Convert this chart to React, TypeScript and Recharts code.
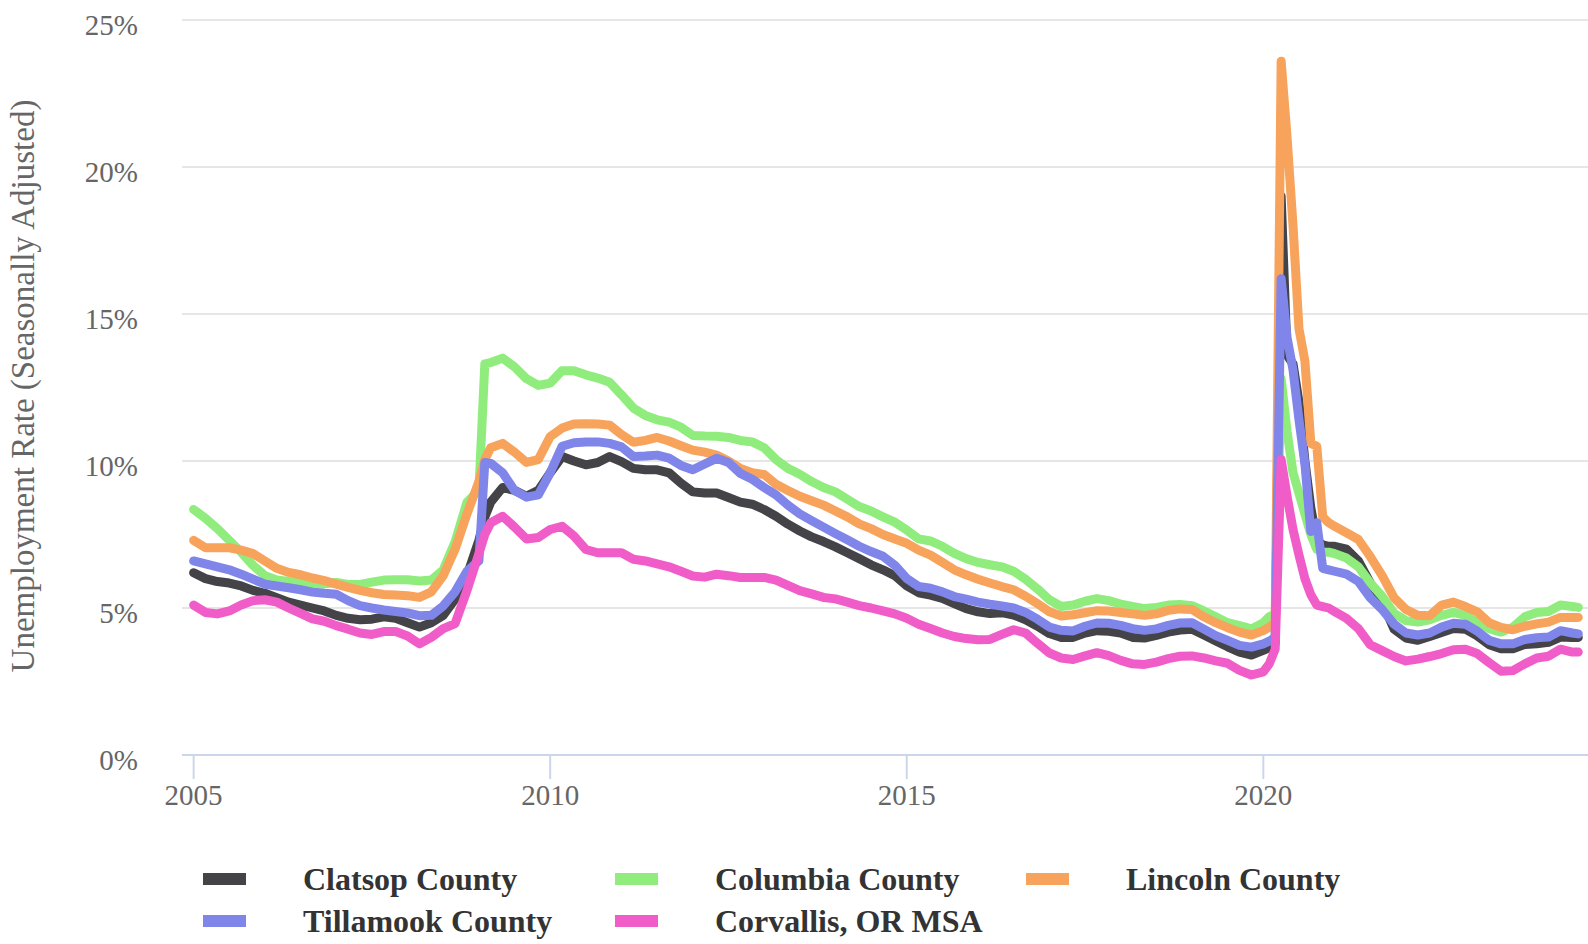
import React from 'react'
import { CartesianGrid, Line, LineChart, XAxis, YAxis } from 'recharts'

const FONT = '"Liberation Serif", "Times New Roman", serif'

// sample dates (every other month, monthly around 2009 and 2020 jumps)
const months = [
    '2005-01', '2005-03', '2005-05', '2005-07', '2005-09', '2005-11',
    '2006-01', '2006-03', '2006-05', '2006-07', '2006-09', '2006-11',
    '2007-01', '2007-03', '2007-05', '2007-07', '2007-09', '2007-11',
    '2008-01', '2008-03', '2008-05', '2008-07', '2008-09', '2008-11',
    '2009-01', '2009-02', '2009-03', '2009-05', '2009-07', '2009-09', '2009-11',
    '2010-01', '2010-03', '2010-05', '2010-07', '2010-09', '2010-11',
    '2011-01', '2011-03', '2011-05', '2011-07', '2011-09', '2011-11',
    '2012-01', '2012-03', '2012-05', '2012-07', '2012-09', '2012-11',
    '2013-01', '2013-03', '2013-05', '2013-07', '2013-09', '2013-11',
    '2014-01', '2014-03', '2014-05', '2014-07', '2014-09', '2014-11',
    '2015-01', '2015-03', '2015-05', '2015-07', '2015-09', '2015-11',
    '2016-01', '2016-03', '2016-05', '2016-07', '2016-09', '2016-11',
    '2017-01', '2017-03', '2017-05', '2017-07', '2017-09', '2017-11',
    '2018-01', '2018-03', '2018-05', '2018-07', '2018-09', '2018-11',
    '2019-01', '2019-03', '2019-05', '2019-07', '2019-09', '2019-11',
    '2020-01', '2020-02', '2020-03', '2020-04', '2020-05', '2020-06',
    '2020-07', '2020-08', '2020-09', '2020-10', '2020-11', '2020-12',
    '2021-01', '2021-03', '2021-05', '2021-07', '2021-09', '2021-11',
    '2022-01', '2022-03', '2022-05', '2022-07', '2022-09', '2022-11',
    '2023-01', '2023-03', '2023-05', '2023-07', '2023-09', '2023-11',
    '2024-01', '2024-03', '2024-05', '2024-06',
]

const clatsop = [
    6.2, 6.0, 5.9, 5.85, 5.75, 5.6,
    5.5, 5.35, 5.2, 5.1, 5.0, 4.9,
    4.75, 4.65, 4.6, 4.62, 4.7, 4.65,
    4.5, 4.35, 4.5, 4.75, 5.3, 6.1,
    7.3, 8.1, 8.6, 9.1, 9.0, 8.8, 9.0,
    9.6, 10.15, 10.0, 9.87, 9.95, 10.15,
    9.98, 9.75, 9.7, 9.7, 9.6, 9.25,
    8.95, 8.91, 8.91, 8.76, 8.6, 8.53,
    8.35, 8.12, 7.85, 7.62, 7.42, 7.26,
    7.08, 6.88, 6.68, 6.47, 6.3, 6.1,
    5.75, 5.52, 5.44, 5.33, 5.15, 4.98,
    4.87, 4.81, 4.84, 4.76, 4.6, 4.38,
    4.13, 4.0, 4.0, 4.15, 4.23, 4.21,
    4.15, 4.0, 3.98, 4.07, 4.18, 4.25,
    4.28, 4.08, 3.88, 3.68, 3.5, 3.4,
    3.56, 3.65, 3.8, 19.0, 13.6, 13.3,
    12.0, 10.0, 8.4, 7.3, 7.15, 7.1,
    7.1, 7.0, 6.6, 5.85, 5.2, 4.28,
    3.98, 3.9, 4.03, 4.17, 4.3, 4.28,
    4.05, 3.75, 3.61, 3.61, 3.76, 3.78,
    3.83, 4.01, 4.0, 4.0,
]

const columbia = [
    8.35, 8.05, 7.7, 7.3, 6.9, 6.45,
    6.1, 5.95, 5.9, 5.85, 5.79, 5.82,
    5.87, 5.8, 5.8, 5.88, 5.95, 5.96,
    5.96, 5.92, 5.95, 6.3, 7.25, 8.6,
    9.0, 13.3, 13.35, 13.5, 13.2, 12.8, 12.57,
    12.65, 13.07, 13.07, 12.93, 12.82, 12.68,
    12.25, 11.8, 11.55, 11.4, 11.32, 11.15,
    10.87, 10.85, 10.84, 10.8, 10.7, 10.65,
    10.45, 10.05, 9.75, 9.55, 9.3, 9.1,
    8.95, 8.7, 8.45, 8.3, 8.1, 7.92,
    7.65, 7.35, 7.28, 7.1, 6.86, 6.68,
    6.55, 6.47, 6.4, 6.25, 5.98, 5.65,
    5.28, 5.05, 5.1, 5.23, 5.32, 5.25,
    5.13, 5.05, 4.98, 5.02, 5.1, 5.12,
    5.08, 4.9, 4.7, 4.5, 4.4, 4.29,
    4.5, 4.7, 4.8, 12.8, 11.0, 9.6,
    8.9, 8.2, 7.5, 7.0, 6.9, 6.9,
    6.85, 6.7, 6.4, 5.85, 5.4, 4.82,
    4.57, 4.52, 4.6, 4.75, 4.85, 4.75,
    4.5, 4.3, 4.18, 4.35, 4.7, 4.85,
    4.88, 5.1, 5.05, 5.02,
]

const lincoln = [
    7.3, 7.05, 7.05, 7.05, 6.97, 6.85,
    6.6, 6.35, 6.21, 6.13, 6.02, 5.93,
    5.81, 5.7, 5.6, 5.52, 5.46, 5.44,
    5.42, 5.36, 5.55, 6.1, 7.0, 8.2,
    9.3, 10.05, 10.45, 10.6, 10.3, 9.95, 10.05,
    10.83, 11.12, 11.26, 11.27, 11.26, 11.22,
    10.9, 10.64, 10.7, 10.8, 10.68, 10.52,
    10.37, 10.3, 10.2, 10.0, 9.75, 9.6,
    9.54, 9.21, 9.0, 8.8, 8.65, 8.5,
    8.3, 8.1, 7.86, 7.7, 7.5, 7.35,
    7.2, 6.97, 6.8, 6.55, 6.3, 6.13,
    5.98, 5.85, 5.73, 5.62, 5.4, 5.15,
    4.87, 4.73, 4.77, 4.84, 4.91, 4.9,
    4.85, 4.8, 4.75, 4.8, 4.92, 4.97,
    4.95, 4.7, 4.5, 4.33, 4.18, 4.08,
    4.23, 4.35, 4.5, 23.6, 21.0, 18.0,
    14.5, 13.4, 10.6, 10.5, 8.1, 7.9,
    7.78, 7.56, 7.33, 6.75, 6.1, 5.35,
    4.95, 4.75, 4.74, 5.1, 5.2, 5.05,
    4.87, 4.5, 4.34, 4.26, 4.38, 4.46,
    4.52, 4.68, 4.68, 4.68,
]

const tillamook = [
    6.6, 6.5, 6.4, 6.3, 6.15, 5.98,
    5.81, 5.75, 5.69, 5.62, 5.54, 5.5,
    5.47, 5.25, 5.08, 5.0, 4.93, 4.88,
    4.83, 4.74, 4.75, 5.07, 5.55, 6.25,
    6.6, 9.95, 9.92, 9.6, 9.0, 8.77, 8.85,
    9.6, 10.5, 10.62, 10.65, 10.65, 10.6,
    10.48, 10.15, 10.17, 10.2, 10.1, 9.85,
    9.7, 9.9, 10.09, 9.95, 9.58, 9.38,
    9.1, 8.85, 8.5, 8.2, 7.97, 7.75,
    7.53, 7.32, 7.1, 6.92, 6.76, 6.45,
    6.0, 5.73, 5.67, 5.55, 5.39, 5.3,
    5.2, 5.13, 5.07, 5.0, 4.85, 4.62,
    4.35, 4.24, 4.22, 4.38, 4.49, 4.48,
    4.41, 4.3, 4.24, 4.29, 4.41, 4.49,
    4.5, 4.28, 4.06, 3.9, 3.73, 3.67,
    3.78, 3.87, 4.0, 16.2, 14.2, 13.1,
    11.4, 9.9, 7.6, 7.9, 6.35, 6.3,
    6.25, 6.15, 5.9, 5.35, 4.95, 4.45,
    4.15, 4.08, 4.15, 4.35, 4.48, 4.45,
    4.21, 3.9, 3.78, 3.78, 3.93, 3.99,
    4.01, 4.23, 4.15, 4.12,
]

const corvallis = [
    5.1, 4.85, 4.8, 4.9, 5.1, 5.25,
    5.28, 5.2, 5.0, 4.82, 4.63, 4.55,
    4.4, 4.28, 4.15, 4.1, 4.2, 4.2,
    4.05, 3.78, 4.0, 4.3, 4.47, 5.6,
    6.85, 7.5, 7.9, 8.12, 7.75, 7.35, 7.4,
    7.67, 7.78, 7.45, 6.99, 6.88, 6.88,
    6.88, 6.66, 6.6, 6.5, 6.4, 6.25,
    6.09, 6.05, 6.15, 6.1, 6.04, 6.04,
    6.04, 5.95, 5.77, 5.59, 5.48, 5.36,
    5.31, 5.2, 5.08, 5.0, 4.9, 4.8,
    4.65, 4.45, 4.3, 4.15, 4.03, 3.96,
    3.92, 3.93, 4.1, 4.26, 4.15, 3.8,
    3.47, 3.3, 3.25, 3.37, 3.48, 3.38,
    3.22, 3.1, 3.08, 3.16, 3.28, 3.36,
    3.37, 3.3, 3.2, 3.12, 2.88, 2.72,
    2.83, 3.1, 3.6, 10.05, 8.8, 7.67,
    6.8, 6.0, 5.45, 5.1, 5.05, 5.0,
    4.88, 4.65, 4.3, 3.75, 3.55, 3.35,
    3.2, 3.26, 3.35, 3.45, 3.58, 3.6,
    3.45, 3.14, 2.85, 2.87, 3.1, 3.3,
    3.36, 3.6, 3.5, 3.5,
]

const yearTicks = [2005, 2010, 2015, 2020]
const rateTicks = [0, 5, 10, 15, 20, 25]

const series = [
    { key: 'clatsop', name: 'Clatsop County', color: '#434348', values: clatsop },
    { key: 'columbia', name: 'Columbia County', color: '#90ed7d', values: columbia },
    { key: 'lincoln', name: 'Lincoln County', color: '#f7a35c', values: lincoln },
    { key: 'tillamook', name: 'Tillamook County', color: '#8085e9', values: tillamook },
    { key: 'corvallis', name: 'Corvallis, OR MSA', color: '#f05cc8', values: corvallis },
]

const data = months.map((m, i) => {
    const [y, mo] = m.split('-').map(Number)
    const row: Record<string, number> = { t: y + (mo - 1) / 12 }
    series.forEach((s) => {
        row[s.key] = s.values[i]
    })
    return row
})

const YTick = (props: any) => (
    <text
        x={props.x}
        y={props.y}
        dy={15}
        textAnchor="end"
        fill="#666666"
        fontSize={29}
        fontFamily={FONT}
    >
        {props.payload.value}%
    </text>
)

const XTick = (props: any) => (
    <text
        x={props.x}
        y={props.y}
        dy={20}
        textAnchor="middle"
        fill="#666666"
        fontSize={29}
        fontFamily={FONT}
    >
        {props.payload.value}
    </text>
)

const legendCols = [203, 615, 1026]
const legendRows = [879, 921]

export default function App() {
    return (
        <div
            style={{
                position: 'absolute',
                left: 0,
                top: 0,
                width: 1588,
                height: 944,
                background: '#ffffff',
                overflow: 'hidden',
            }}
        >
            <LineChart
                width={1588}
                height={944}
                data={data}
                margin={{ top: 20, right: 0, left: 0, bottom: 129 }}
            >
                <CartesianGrid
                    horizontal={true}
                    vertical={false}
                    stroke="#e6e6e6"
                    strokeWidth={2}
                />
                <XAxis
                    dataKey="t"
                    type="number"
                    domain={[2004.837, 2024.553]}
                    ticks={yearTicks}
                    allowDataOverflow
                    height={60}
                    tickSize={24}
                    tickMargin={6}
                    axisLine={{ stroke: '#ccd6eb', strokeWidth: 2 }}
                    tickLine={{ stroke: '#ccd6eb', strokeWidth: 2 }}
                    tick={<XTick />}
                />
                <YAxis
                    type="number"
                    domain={[0, 25]}
                    ticks={rateTicks}
                    width={182}
                    tickSize={0}
                    tickMargin={44}
                    axisLine={false}
                    tickLine={false}
                    tick={<YTick />}
                    label={{
                        content: () => (
                            <text
                                transform="translate(34,386) rotate(-90)"
                                textAnchor="middle"
                                fill="#666666"
                                fontSize={33}
                                fontFamily={FONT}
                            >
                                Unemployment Rate (Seasonally Adjusted)
                            </text>
                        ),
                    }}
                />
                {series.map((s) => (
                    <Line
                        key={s.key}
                        type="linear"
                        dataKey={s.key}
                        name={s.name}
                        stroke={s.color}
                        strokeWidth={9}
                        strokeLinejoin="round"
                        strokeLinecap="round"
                        dot={false}
                        activeDot={false}
                        isAnimationActive={false}
                    />
                ))}
            </LineChart>

            {series.map((s, i) => {
                const col = i % 3
                const row = Math.floor(i / 3)
                const left = legendCols[col]
                const cy = legendRows[row]
                return (
                    <div
                        key={s.key}
                        style={{
                            position: 'absolute',
                            left,
                            top: cy - 20,
                            height: 40,
                            display: 'flex',
                            alignItems: 'center',
                        }}
                    >
                        <div
                            style={{
                                width: 43,
                                height: 12,
                                background: s.color,
                            }}
                        />
                        <span
                            style={{
                                marginLeft: 57,
                                fontFamily: FONT,
                                fontWeight: 'bold',
                                fontSize: 32,
                                lineHeight: '40px',
                                color: '#333333',
                                whiteSpace: 'nowrap',
                            }}
                        >
                            {s.name}
                        </span>
                    </div>
                )
            })}
        </div>
    )
}
